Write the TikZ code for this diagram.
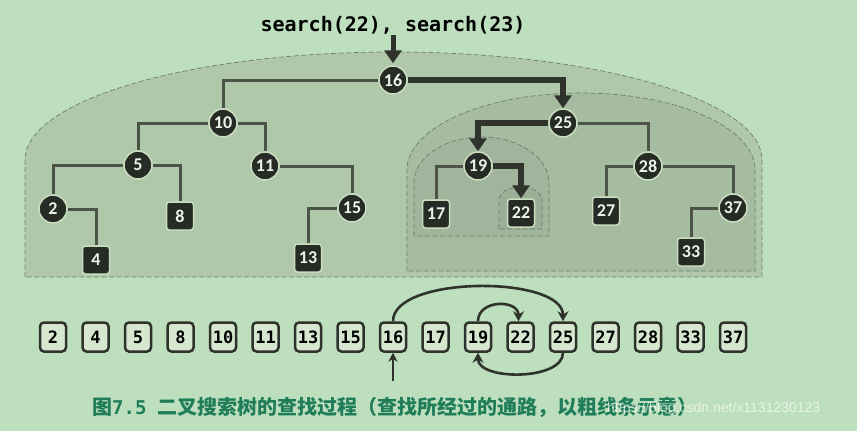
\documentclass[tikz,border=0pt]{standalone}
\usepackage{fontspec}
\usetikzlibrary{arrows.meta}
\newfontfamily\monof{DejaVu Sans Mono}
\newfontfamily\numf{Carlito}
\newfontfamily\cjkf{Noto Sans CJK SC}
\newfontfamily\wmf{Liberation Sans}
\definecolor{bgc}{HTML}{BEDFBD}
\definecolor{regA}{HTML}{AEC8A9}
\definecolor{regB}{HTML}{A6BCA1}
\definecolor{regC}{HTML}{A0B59B}
\definecolor{regD}{HTML}{9AAF95}
\definecolor{dashc}{HTML}{6F7F6C}
\definecolor{nodefill}{HTML}{272B25}
\definecolor{nodeborder}{HTML}{C9DDBF}
\definecolor{numtext}{HTML}{EEF3EA}
\definecolor{edgec}{HTML}{4B5447}
\definecolor{hlc}{HTML}{2F332C}
\definecolor{boxfill}{HTML}{D5E7CF}
\definecolor{boxborder}{HTML}{2E322C}
\definecolor{capc}{HTML}{1F7D59}
\pgfdeclarelayer{bglayer}
\pgfdeclarelayer{edgelayer}
\pgfsetlayers{bglayer,edgelayer,main}
\tikzset{
  inode/.style={circle,fill=nodefill,draw=nodeborder,line width=1.5pt,minimum size=28pt,inner sep=0pt,text=numtext,font=\numf\bfseries\fontsize{18}{18}\selectfont},
  leafbox/.style={rectangle,rounded corners=3pt,fill=nodefill,draw=nodeborder,line width=1.5pt,minimum width=27pt,minimum height=28pt,inner sep=0pt,text=numtext,font=\numf\bfseries\fontsize{18}{18}\selectfont},
  rowbox/.style={rectangle,rounded corners=4pt,fill=boxfill,draw=boxborder,line width=2.5pt,minimum width=26pt,minimum height=29pt,inner sep=0pt,text=black,font=\monof\bfseries\fontsize{17}{17}\selectfont},
  tedge/.style={draw=edgec,line width=3pt},
  hledge/.style={draw=hlc,line width=5.5pt,-{Triangle[width=17pt,length=13pt]}},
  region/.style={draw=dashc,line width=0.7pt,dash pattern=on 5pt off 2.5pt},
  rowarc/.style={draw=hlc,line width=2.6pt,-{Stealth[width=11pt,length=10pt]}}
}
\begin{document}
\begin{tikzpicture}[x=1pt,y=-1pt]
\useasboundingbox (0,0) rectangle (857,431);

% tree nodes
\node[inode] (n16) at (393,80) {16};
\node[inode] (n10) at (223,123) {10};
\node[inode] (n25) at (563,123) {25};
\node[inode] (n5) at (138,165) {5};
\node[inode] (n11) at (265,166) {11};
\node[inode] (n19) at (478,166) {19};
\node[inode] (n28) at (648,166) {28};
\node[inode] (n2) at (53,209) {2};
\node[leafbox] (n8) at (180,216) {8};
\node[inode] (n15) at (352,208) {15};
\node[leafbox] (n17) at (436,214) {17};
\node[leafbox] (n22) at (521,213) {22};
\node[leafbox] (n27) at (606,211) {27};
\node[inode] (n37) at (733,208) {37};
\node[leafbox] (n4) at (96,260) {4};
\node[leafbox] (n13) at (308,258) {13};
\node[leafbox] (n33) at (691,252) {33};

% search label
\node[font=\monof\bfseries\fontsize{20}{20}\selectfont,text=black,inner sep=1pt] (top) at (393,25) {search(22), search(23)};

% background and regions
\begin{pgfonlayer}{bglayer}
\fill[bgc] (0,0) rectangle (857,431);
\filldraw[region,fill=regA] (25,277) -- (25,160) arc[start angle=180,end angle=0,x radius=368.5pt,y radius=108pt] -- (762,277) -- cycle;
\filldraw[region,fill=regB] (407,271) -- (407,170) arc[start angle=180,end angle=0,x radius=174pt,y radius=77pt] -- (755,271) -- cycle;
\filldraw[region,fill=regC] (414,236) -- (414,183) arc[start angle=180,end angle=0,x radius=67.5pt,y radius=46pt] -- (549,236) -- cycle;
\filldraw[region,fill=regD] (499,229) -- (499,200) arc[start angle=180,end angle=0,x radius=21.5pt,y radius=13pt] -- (542,229) -- cycle;
\end{pgfonlayer}

% edges
\begin{pgfonlayer}{edgelayer}
\draw[tedge] (n16) -| (n10);
\draw[tedge] (n10) -| (n5);
\draw[tedge] (n10) -| (n11);
\draw[tedge] (n5) -| (n2);
\draw[tedge] (n5) -| (n8);
\draw[tedge] (n2) -| (n4);
\draw[tedge] (n11) -| (n15);
\draw[tedge] (n15) -| (n13);
\draw[tedge] (n25) -| (n28);
\draw[tedge] (n19) -| (n17);
\draw[tedge] (n28) -| (n27);
\draw[tedge] (n28) -| (n37);
\draw[tedge] (n37) -| (n33);
\end{pgfonlayer}
\draw[hledge] (n16) -| (n25);
\draw[hledge] (n25) -| (n19);
\draw[hledge] (n19) -| (n22);
\draw[hledge,line width=5pt,shorten >=2pt] (top.south) -- (n16.north);

% sorted row
\foreach \v [count=\i from 0] in {2,4,5,8,10,11,13,15,16,17,19,22,25,27,28,33,37}{
  \node[rowbox] (r\v) at ({53+42.5*\i},337) {\v};
}
\coordinate (upstart) at (393,381);
\draw[draw=hlc,line width=2.2pt,-{Stealth[width=9pt,length=9pt]}] (upstart) -- (r16.south);
\draw[rowarc] (r16.north) .. controls +(0,-46) and +(0,-46) .. (r25.north);
\draw[rowarc] (r19.north) .. controls +(0,-22) and +(0,-22) .. ([xshift=-2pt]r22.north);
\draw[rowarc] (r25.south) .. controls +(0,28) and +(0,28) .. (r19.south);

% caption
\node[anchor=west,text=capc,inner sep=0pt] (cap) at (92,407) {{\cjkf\bfseries\fontsize{20}{20}\selectfont 图}{\monof\bfseries\fontsize{19}{19}\selectfont 7.5 }{\cjkf\bfseries\fontsize{20}{20}\selectfont 二叉搜索树的查找过程（查找所经过的通路，以粗线条示意）}};
\node[anchor=west,text=white,opacity=0.65,inner sep=0pt,font=\wmf\fontsize{14}{14}\selectfont] (wm) at (607,409) {https://blog.csdn.net/x1131230123};
\end{tikzpicture}
\end{document}
